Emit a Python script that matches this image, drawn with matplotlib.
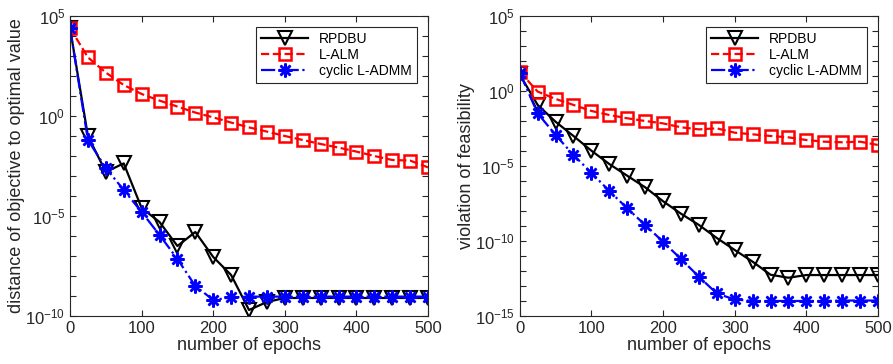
import numpy as np
import matplotlib
matplotlib.use("Agg")
import matplotlib.pyplot as plt

plt.rcParams["font.family"] = ["Liberation Sans", "DejaVu Sans"]
plt.rcParams["mathtext.default"] = "regular"

epochs = np.arange(0, 501, 25)

# log10 values
obj_rpdbu = [4.4, -1.0, -2.8, -2.37, -4.6, -5.3, -6.5, -5.8, -7.05, -7.95, -9.7,
             -9.3, -9.1, -9.1, -9.1, -9.1, -9.1, -9.1, -9.1, -9.1, -9.1]
obj_lalm = [4.4, 2.93, 2.17, 1.55, 1.1, 0.77, 0.47, 0.17, -0.07, -0.33, -0.57,
            -0.78, -1.0, -1.2, -1.4, -1.58, -1.78, -2.0, -2.2, -2.23, -2.57]
obj_admm = [4.4, -1.2, -2.6, -3.7, -4.8, -5.95, -7.15, -8.5, -9.2, -9.07, -9.03,
            -9.03, -9.03, -9.03, -9.03, -9.03, -9.03, -9.03, -9.03, -9.03, -9.03]

feas_rpdbu = [1.1, -0.93, -2.05, -3.0, -3.98, -4.87, -5.65, -6.42, -7.35, -8.18, -8.93,
              -9.8, -10.6, -11.38, -12.25, -12.45, -12.27, -12.27, -12.27, -12.27, -12.27]
feas_lalm = [1.29, -0.04, -0.53, -0.93, -1.33, -1.6, -1.82, -2.0, -2.16, -2.42, -2.56,
             -2.49, -2.78, -2.89, -3.0, -3.09, -3.27, -3.38, -3.42, -3.38, -3.6]
feas_admm = [1.22, -1.49, -2.93, -4.27, -5.45, -6.67, -7.82, -8.93, -10.05, -11.2, -12.38,
             -13.5, -13.9, -14.0, -14.0, -14.0, -14.0, -14.0, -13.97, -13.97, -13.97]

labels = ["RPDBU", "L-ALM", "cyclic L-ADMM"]
ylabels = ["distance of objective to optimal value", "violation of feasibility"]
ylims = [(-10, 5), (-15, 5)]

fig = plt.figure(figsize=(8.93, 3.64), dpi=100)
ax1 = fig.add_axes([0.0784, 0.1319, 0.4009, 0.8242])
ax2 = fig.add_axes([0.582, 0.1319, 0.4012, 0.8242])

data = [(obj_rpdbu, obj_lalm, obj_admm), (feas_rpdbu, feas_lalm, feas_admm)]
gray = "#262626"

for ax, (r, l, a), ylab, (lo, hi) in zip([ax1, ax2], data, ylabels, ylims):
    ax.semilogy(epochs, 10.0 ** np.array(r), "-", color="black", lw=1.6,
                marker="v", ms=10, mfc="none", mew=1.5, label=labels[0])
    ax.semilogy(epochs, 10.0 ** np.array(l), "--", color="#ff0000", lw=1.6,
                marker="s", ms=8, mfc="none", mew=1.8, label=labels[1])
    ax.semilogy(epochs, 10.0 ** np.array(a), "-.", color="#0000ff", lw=1.6,
                marker=(8, 2, 0), ms=10, mew=1.8, label=labels[2])
    ax.set_xlim(0, 500)
    ax.set_ylim(10.0 ** lo, 10.0 ** hi)
    ax.set_xticks(np.arange(0, 501, 100))
    dec = np.arange(lo, hi + 1)
    ax.set_yticks(10.0 ** dec)
    ax.set_yticklabels([r"$10^{%d}$" % d if d % 5 == 0 else "" for d in dec])
    ax.minorticks_off()
    ax.tick_params(direction="in", top=True, right=True, length=4,
                   labelsize=12, colors=gray, labelcolor=gray)
    for s in ax.spines.values():
        s.set_color(gray)
        s.set_linewidth(0.8)
    ax.set_xlabel("number of epochs", fontsize=13, color=gray, labelpad=1)
    ax.set_ylabel(ylab, fontsize=13, color=gray, labelpad=0)
    leg = ax.legend(loc="upper right", fontsize=10, fancybox=False, framealpha=1,
                    edgecolor=gray, handlelength=3.4, borderaxespad=0.8,
                    labelspacing=0.15, borderpad=0.35)
    leg.get_frame().set_linewidth(0.8)

fig.savefig("out.png", dpi=100)
